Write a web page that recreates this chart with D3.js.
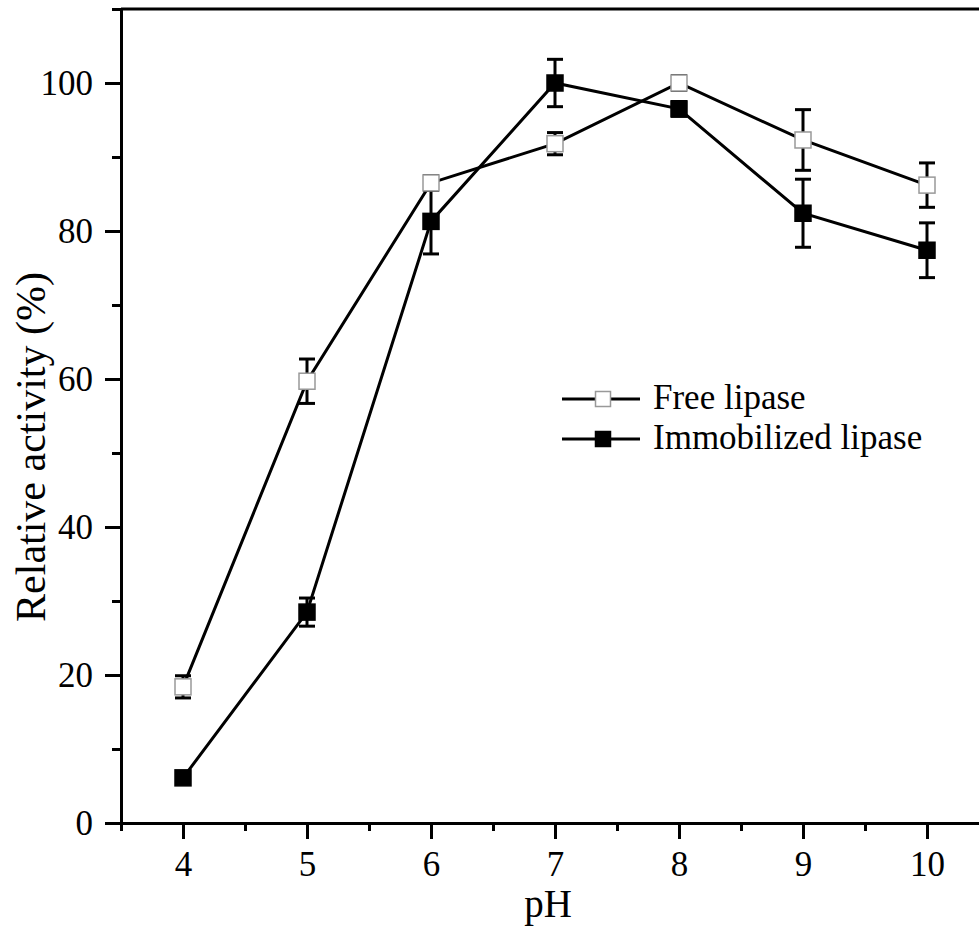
<!DOCTYPE html>
<html>
<head>
<meta charset="utf-8">
<script src="https://cdn.jsdelivr.net/npm/d3@7"></script>
<style>
  body { margin: 0; background: #fff; }
  text { font-family: "Liberation Serif", "Times New Roman", serif; fill: #000; }
</style>
</head>
<body>
<div id="chart"></div>
<script>
// data
const pH = [4, 5, 6, 7, 8, 9, 10];
const freeActivity = [18.4, 59.7, 86.5, 91.8, 100, 92.3, 86.2];
const freeError    = [1.5, 3.0, 1.0, 1.5, 1.0, 4.1, 3.0];
const immoActivity = [6.1, 28.5, 81.3, 100, 96.5, 82.4, 77.4];
const immoError    = [0.5, 1.9, 4.4, 3.2, 1.0, 4.6, 3.7];

const xMajor = [4, 5, 6, 7, 8, 9, 10];
const xMinor = [3.5, 4.5, 5.5, 6.5, 7.5, 8.5, 9.5];
const yMajor = [0, 20, 40, 60, 80, 100];
const yMinor = [10, 30, 50, 70, 90, 110];

const seriesNames = ['Free lipase', 'Immobilized lipase'];

const width = 979, height = 932;
const plot = { left: 121, right: 989, top: 9, bottom: 823 };
const markerSize = 16;

const svg = d3.select('#chart').append('svg')
    .attr('width', width)
    .attr('height', height);

const x = d3.scaleLinear().domain([3.5, 10.5]).range([plot.left, plot.right]);
const y = d3.scaleLinear().domain([0, 110]).range([plot.bottom, plot.top]);

// axes
const gx = svg.append('g').attr('transform', `translate(0,${plot.bottom})`);
gx.call(d3.axisBottom(x).tickValues(xMajor).tickSize(16).tickSizeOuter(0).tickPadding(12)
    .tickFormat(d3.format('d')));
gx.append('g').call(d3.axisBottom(x).tickValues(xMinor).tickSize(8).tickFormat(''))
    .select('.domain').remove();

const gy = svg.append('g').attr('transform', `translate(${plot.left},0)`);
gy.call(d3.axisLeft(y).tickValues(yMajor).tickSize(16).tickSizeOuter(0).tickPadding(12));
gy.append('g').call(d3.axisLeft(y).tickValues(yMinor).tickSize(9).tickFormat(''))
    .select('.domain').remove();

svg.selectAll('.domain, .tick line')
    .attr('stroke', '#000')
    .attr('stroke-width', 3);
svg.selectAll('.tick text')
    .style('font-size', '35px');

// top frame line
svg.append('line')
    .attr('x1', plot.left).attr('x2', width)
    .attr('y1', y(110)).attr('y2', y(110))
    .attr('stroke', '#000').attr('stroke-width', 3);

// axis titles
svg.append('text')
    .attr('x', x(7) - 7).attr('y', 917)
    .attr('text-anchor', 'middle')
    .style('font-size', '39px')
    .text('pH');

svg.append('text')
    .attr('transform', 'translate(45,447) rotate(-90)')
    .attr('text-anchor', 'middle')
    .style('font-size', '42px')
    .text('Relative activity (%)');

const series = [
    { name: seriesNames[0], values: freeActivity, errors: freeError, fill: '#fff', stroke: '#999' },
    { name: seriesNames[1], values: immoActivity, errors: immoError, fill: '#000', stroke: '#000' }
];

const line = d3.line()
    .x(d => x(d.x))
    .y(d => y(d.y));

// error bars
series.forEach(s => {
    const pts = pH.map((p, i) => ({ x: p, y: s.values[i], e: s.errors[i] }));
    const eb = svg.append('g').attr('stroke', '#000').attr('stroke-width', 3);
    eb.selectAll('line.bar').data(pts).enter().append('line')
        .attr('x1', d => x(d.x)).attr('x2', d => x(d.x))
        .attr('y1', d => y(d.y - d.e)).attr('y2', d => y(d.y + d.e));
    eb.selectAll('line.capTop').data(pts).enter().append('line')
        .attr('x1', d => x(d.x) - 8).attr('x2', d => x(d.x) + 8)
        .attr('y1', d => y(d.y + d.e)).attr('y2', d => y(d.y + d.e));
    eb.selectAll('line.capBottom').data(pts).enter().append('line')
        .attr('x1', d => x(d.x) - 8).attr('x2', d => x(d.x) + 8)
        .attr('y1', d => y(d.y - d.e)).attr('y2', d => y(d.y - d.e));
});

// lines
series.forEach(s => {
    const pts = pH.map((p, i) => ({ x: p, y: s.values[i] }));
    svg.append('path')
        .datum(pts)
        .attr('d', line)
        .attr('fill', 'none')
        .attr('stroke', '#000')
        .attr('stroke-width', 3);
});

// markers, free lipase on top
[series[1], series[0]].forEach(s => {
    const pts = pH.map((p, i) => ({ x: p, y: s.values[i] }));
    svg.append('g').selectAll('rect').data(pts).enter().append('rect')
        .attr('x', d => x(d.x) - markerSize / 2)
        .attr('y', d => y(d.y) - markerSize / 2)
        .attr('width', markerSize)
        .attr('height', markerSize)
        .attr('fill', s.fill)
        .attr('stroke', s.stroke)
        .attr('stroke-width', 1.5);
});

// legend
const legend = svg.append('g').attr('transform', 'translate(562,399)');
series.forEach((s, i) => {
    const row = legend.append('g').attr('transform', `translate(0,${i * 40})`);
    row.append('line')
        .attr('x1', 0).attr('x2', 78)
        .attr('stroke', '#000').attr('stroke-width', 3);
    row.append('rect')
        .attr('x', 41 - 7.5).attr('y', -7.5)
        .attr('width', 15).attr('height', 15)
        .attr('fill', s.fill).attr('stroke', s.stroke).attr('stroke-width', 1.5);
    row.append('text')
        .attr('x', 91).attr('y', 10)
        .style('font-size', '35px')
        .text(s.name);
});
</script>
</body>
</html>
